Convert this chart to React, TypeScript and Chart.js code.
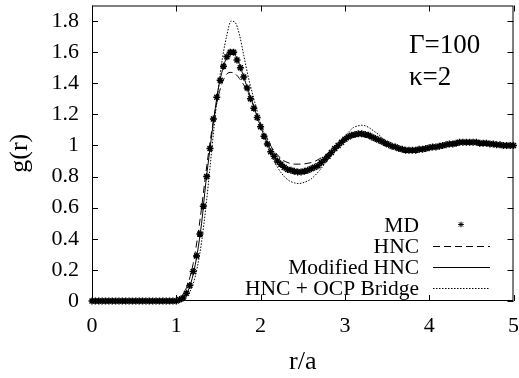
import React, { useEffect, useRef } from "react";
import { Chart, registerables } from "chart.js";

Chart.register(...registerables);

// ---------- data ----------
const X_TICKS = [0, 1, 2, 3, 4, 5];
const Y_TICKS = [0, 0.2, 0.4, 0.6, 0.8, 1, 1.2, 1.4, 1.6, 1.8];
const X_MIN = 0;
const X_MAX = 5;
const Y_MIN = 0;
const Y_MAX = 1.9;

// r grid of the theory curves (step 0.05) and of the MD samples (step 0.04)
const THEORY_R = Array.from({ length: 101 }, (_, i) => +(i * 0.05).toFixed(2));
const MD_R = Array.from({ length: 126 }, (_, i) => +(i * 0.04).toFixed(2));

const ZEROS_20 = [0, 0, 0, 0, 0, 0, 0, 0, 0, 0, 0, 0, 0, 0, 0, 0, 0, 0, 0, 0];
const ZEROS_25 = [0, 0, 0, 0, 0, 0, 0, 0, 0, 0, 0, 0, 0, 0, 0, 0, 0, 0, 0, 0, 0, 0, 0, 0, 0];

const MD_G = [
  ...ZEROS_25,
  0.0, 0.01, 0.02, 0.05, 0.1, 0.19, 0.29, 0.43, 0.61, 0.8,
  0.98, 1.17, 1.31, 1.42, 1.51, 1.57, 1.6, 1.6, 1.55, 1.5,
  1.44, 1.37, 1.3, 1.24, 1.18, 1.12, 1.06, 1.01, 0.96, 0.93,
  0.9, 0.88, 0.86, 0.845, 0.84, 0.835, 0.83, 0.83, 0.835, 0.84,
  0.85, 0.86, 0.87, 0.89, 0.91, 0.93, 0.955, 0.98, 1.0, 1.02,
  1.04, 1.055, 1.065, 1.07, 1.075, 1.075, 1.07, 1.065, 1.055, 1.045,
  1.035, 1.025, 1.015, 1.005, 0.995, 0.99, 0.98, 0.975, 0.97, 0.97,
  0.97, 0.97, 0.975, 0.975, 0.98, 0.985, 0.99, 0.99, 0.995, 1.0,
  1.005, 1.01, 1.01, 1.015, 1.02, 1.02, 1.02, 1.02, 1.02, 1.02,
  1.015, 1.015, 1.015, 1.01, 1.01, 1.005, 1.005, 1.0, 1.0, 1.0,
  1.0,
];

const HNC_G = [
  ...ZEROS_20,
  0.0, 0.02, 0.06, 0.13, 0.24, 0.4, 0.6, 0.82, 1.02, 1.19,
  1.32, 1.41, 1.46, 1.47, 1.46, 1.43, 1.39, 1.34, 1.28, 1.21,
  1.14, 1.08, 1.02, 0.97, 0.94, 0.91, 0.895, 0.885, 0.88, 0.88,
  0.88, 0.885, 0.89, 0.9, 0.915, 0.93, 0.95, 0.97, 0.99, 1.01,
  1.03, 1.045, 1.055, 1.06, 1.06, 1.055, 1.05, 1.04, 1.03, 1.02,
  1.01, 1.0, 0.99, 0.985, 0.98, 0.975, 0.975, 0.975, 0.98, 0.98,
  0.985, 0.99, 0.995, 1.0, 1.005, 1.01, 1.01, 1.015, 1.015, 1.015,
  1.015, 1.015, 1.01, 1.01, 1.01, 1.005, 1.005, 1.0, 1.0, 1.0,
  1.0,
];

const MODIFIED_HNC_G = [
  ...ZEROS_20,
  0.0, 0.01, 0.03, 0.08, 0.17, 0.31, 0.5, 0.76, 0.98, 1.19,
  1.37, 1.49, 1.57, 1.6, 1.58, 1.52, 1.44, 1.36, 1.28, 1.2,
  1.12, 1.05, 0.99, 0.94, 0.9, 0.87, 0.85, 0.84, 0.835, 0.83,
  0.83, 0.835, 0.845, 0.86, 0.88, 0.9, 0.93, 0.96, 0.99, 1.02,
  1.04, 1.06, 1.07, 1.075, 1.075, 1.07, 1.06, 1.05, 1.04, 1.025,
  1.01, 1.0, 0.99, 0.98, 0.975, 0.97, 0.97, 0.97, 0.975, 0.98,
  0.985, 0.99, 0.995, 1.0, 1.005, 1.01, 1.015, 1.02, 1.02, 1.02,
  1.02, 1.02, 1.015, 1.015, 1.01, 1.005, 1.005, 1.0, 1.0, 1.0,
  1.0,
];

const OCP_BRIDGE_G = [
  ...ZEROS_20,
  0.0, 0.005, 0.02, 0.05, 0.11, 0.22, 0.38, 0.6, 0.86, 1.13,
  1.37, 1.57, 1.71, 1.8, 1.79, 1.71, 1.58, 1.45, 1.34, 1.24,
  1.14, 1.06, 0.98, 0.91, 0.86, 0.82, 0.79, 0.77, 0.76, 0.755,
  0.76, 0.77, 0.785, 0.81, 0.84, 0.875, 0.91, 0.95, 0.99, 1.03,
  1.06, 1.09, 1.115, 1.125, 1.13, 1.125, 1.11, 1.09, 1.07, 1.045,
  1.02, 1.0, 0.98, 0.97, 0.96, 0.955, 0.955, 0.955, 0.96, 0.965,
  0.975, 0.985, 0.995, 1.005, 1.015, 1.02, 1.025, 1.03, 1.03, 1.03,
  1.025, 1.02, 1.015, 1.01, 1.005, 1.0, 1.0, 0.995, 0.995, 0.995,
  1.0,
];

const LEGEND_LABELS = ["MD", "HNC", "Modified HNC", "HNC + OCP Bridge"];
const ANNOTATION_LINES = ["\u0393=100", "\u03BA=2"];
const X_TITLE = "r/a";
const Y_TITLE = "g(r)";

// ---------- styles ----------
const FONT = "'Liberation Serif', 'Times New Roman', serif";
const DASH_HNC = [7, 4];
const DASH_OCP = [1.5, 1.5];

function drawStar(ctx: CanvasRenderingContext2D, x: number, y: number, r: number) {
  ctx.beginPath();
  ctx.moveTo(x - r, y);
  ctx.lineTo(x + r, y);
  ctx.moveTo(x, y - r);
  ctx.lineTo(x, y + r);
  const d = r * 0.75;
  ctx.moveTo(x - d, y - d);
  ctx.lineTo(x + d, y + d);
  ctx.moveTo(x - d, y + d);
  ctx.lineTo(x + d, y - d);
  ctx.stroke();
}

const framePlugin = {
  id: "gnuplotFrame",
  afterDatasetsDraw(chart: any) {
    const { ctx, chartArea } = chart;
    const { left, right, top, bottom } = chartArea;
    const xs = chart.scales.x;
    const ys = chart.scales.y;
    ctx.save();
    ctx.strokeStyle = "#000";
    ctx.lineWidth = 1;
    ctx.setLineDash([]);
    // border
    ctx.strokeRect(left + 0.5, top + 0.5, right - left - 1, bottom - top - 1);
    // inward ticks
    const L = 6;
    ctx.beginPath();
    X_TICKS.forEach((v) => {
      const px = Math.round(xs.getPixelForValue(v)) + 0.5;
      ctx.moveTo(px, bottom);
      ctx.lineTo(px, bottom - L);
      ctx.moveTo(px, top);
      ctx.lineTo(px, top + L);
    });
    Y_TICKS.forEach((v) => {
      const py = Math.round(ys.getPixelForValue(v)) + 0.5;
      ctx.moveTo(left, py);
      ctx.lineTo(left + L, py);
      ctx.moveTo(right, py);
      ctx.lineTo(right - L, py);
    });
    ctx.stroke();

    // annotation
    ctx.fillStyle = "#000";
    ctx.font = `27px ${FONT}`;
    ctx.textAlign = "left";
    ctx.textBaseline = "alphabetic";
    ctx.fillText(ANNOTATION_LINES[0], left + 317, top + 47);
    ctx.fillText(ANNOTATION_LINES[1], left + 317, top + 79);

    // legend
    ctx.font = `21.5px ${FONT}`;
    ctx.textAlign = "right";
    const textRight = left + 327;
    const sx0 = left + 341;
    const sx1 = left + 398;
    const baseY = top + 226;
    const step = 21.3;
    LEGEND_LABELS.forEach((lab, i) => {
      const by = baseY + i * step;
      ctx.fillText(lab, textRight, by);
      const cy = Math.round(by - 7) + 0.5;
      ctx.lineWidth = 1;
      if (i === 0) {
        ctx.setLineDash([]);
        drawStar(ctx, (sx0 + sx1) / 2 - 0.5, cy - 1, 2.8);
      } else {
        ctx.setLineDash(i === 1 ? DASH_HNC : i === 3 ? DASH_OCP : []);
        ctx.beginPath();
        ctx.moveTo(sx0, cy);
        ctx.lineTo(sx1, cy);
        ctx.stroke();
      }
    });
    ctx.restore();
  },
};

function zeroPadding(scale: any) {
  scale.paddingTop = 0;
  scale.paddingBottom = 0;
  scale.paddingLeft = 0;
  scale.paddingRight = 0;
}

export default function App() {
  const canvasRef = useRef<HTMLCanvasElement | null>(null);

  useEffect(() => {
    const canvas = canvasRef.current;
    if (!canvas) return;
    const md = MD_R.map((r, i) => ({ x: r, y: MD_G[i] }));
    const hnc = THEORY_R.map((r, i) => ({ x: r, y: HNC_G[i] }));
    const mhnc = THEORY_R.map((r, i) => ({ x: r, y: MODIFIED_HNC_G[i] }));
    const ocp = THEORY_R.map((r, i) => ({ x: r, y: OCP_BRIDGE_G[i] }));

    const chart = new Chart(canvas, {
      type: "line",
      data: {
        datasets: [
          {
            label: LEGEND_LABELS[0],
            data: md,
            showLine: false,
            pointStyle: "star",
            pointRadius: 3.5,
            pointBorderWidth: 1.5,
            pointBorderColor: "#000",
            pointBackgroundColor: "#000",
            borderColor: "#000",
            clip: false as any,
          },
          {
            label: LEGEND_LABELS[1],
            data: hnc,
            borderColor: "#000",
            borderWidth: 1,
            borderDash: DASH_HNC,
            pointRadius: 0,
            cubicInterpolationMode: "monotone",
            clip: 2 as any,
          },
          {
            label: LEGEND_LABELS[2],
            data: mhnc,
            borderColor: "#000",
            borderWidth: 1,
            pointRadius: 0,
            cubicInterpolationMode: "monotone",
            clip: 2 as any,
          },
          {
            label: LEGEND_LABELS[3],
            data: ocp,
            borderColor: "#000",
            borderWidth: 1,
            borderDash: DASH_OCP,
            pointRadius: 0,
            cubicInterpolationMode: "monotone",
            clip: 2 as any,
          },
        ],
      },
      options: {
        animation: false,
        responsive: true,
        maintainAspectRatio: false,
        devicePixelRatio: 1,
        layout: { padding: { top: 4, right: 2, left: 0, bottom: 0 } },
        plugins: {
          legend: { display: false },
          tooltip: { enabled: false },
        },
        scales: {
          x: {
            type: "linear",
            min: X_MIN,
            max: X_MAX,
            grid: { display: false, drawTicks: false },
            border: { display: false },
            afterBuildTicks: (scale: any) => {
              scale.ticks = X_TICKS.map((v) => ({ value: v }));
            },
            afterFit: (scale: any) => {
              scale.height = 77;
              zeroPadding(scale);
            },
            ticks: {
              color: "#000",
              padding: 12,
              maxRotation: 0,
              font: { family: FONT, size: 22 },
              callback: (v: any) => String(v),
            },
            title: {
              display: true,
              text: X_TITLE,
              color: "#000",
              font: { family: FONT, size: 26 },
              padding: { top: 0, bottom: 0 },
            },
          },
          y: {
            type: "linear",
            min: Y_MIN,
            max: Y_MAX,
            grid: { display: false, drawTicks: false },
            border: { display: false },
            afterBuildTicks: (scale: any) => {
              scale.ticks = Y_TICKS.map((v) => ({ value: v }));
            },
            afterFit: (scale: any) => {
              scale.width = 92;
              zeroPadding(scale);
            },
            ticks: {
              color: "#000",
              padding: 13,
              font: { family: FONT, size: 22 },
              callback: (v: any) => String(+Number(v).toFixed(1)),
            },
            title: {
              display: true,
              text: Y_TITLE,
              color: "#000",
              font: { family: FONT, size: 26 },
              padding: { top: 5, bottom: 0 },
            },
          },
        },
      },
      plugins: [framePlugin],
    } as any);

    return () => {
      chart.destroy();
    };
  }, []);

  return (
    <div
      style={{
        position: "fixed",
        left: 0,
        top: 0,
        width: 519,
        height: 378,
        background: "#fff",
      }}
    >
      <canvas ref={canvasRef} />
    </div>
  );
}
